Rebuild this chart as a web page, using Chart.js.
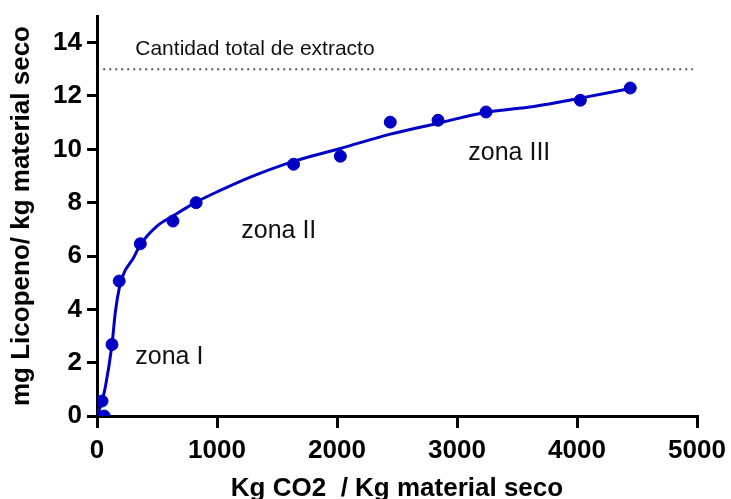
<!DOCTYPE html>
<html>
<head>
<meta charset="utf-8">
<script src="https://cdn.jsdelivr.net/npm/chart.js@4.4.0/dist/chart.umd.min.js"></script>
<style>
  html, body { margin: 0; padding: 0; background: #fff; }
  #wrap { width: 731px; height: 499px; }
</style>
</head>
<body>
<div id="wrap"><canvas id="myChart" width="731" height="499"></canvas></div>
<script>
// measured extraction points
const co2 = [0, 42, 60, 125, 185, 361, 633, 826, 1638, 2028, 2444, 2842, 3242, 4028, 4444];
const licopeno = [0, 0.56, 0, 2.68, 5.06, 6.46, 7.31, 8.0, 9.44, 9.74, 11.02, 11.09, 11.40, 11.84, 12.30];

// fitted curve
const curveX = [0, 20, 42, 70, 125, 153, 188, 215, 236, 270, 300, 361, 500, 633, 826, 1027, 1278, 1638, 2028, 2444, 2842, 3242, 3640, 4028, 4444];
const curveY = [0, 0.25, 0.56, 1.1, 2.68, 3.9, 4.85, 5.25, 5.47, 5.7, 5.9, 6.42, 7.12, 7.5, 8.02, 8.46, 8.96, 9.55, 10.03, 10.57, 10.98, 11.39, 11.61, 11.92, 12.28];

// total extract level
const totalX = [52, 4967];
const totalY = [13, 13];

const xTicks = [0, 1000, 2000, 3000, 4000, 5000];
const yTicks = [0, 2, 4, 6, 8, 10, 12, 14];

const FONT = "'Liberation Sans', Arial, sans-serif";
const BLUE = '#0000c4';

const toXY = (xs, ys) => xs.map((x, i) => ({ x: x, y: ys[i] }));

// free text labels placed in data coordinates
const notes = [
  { text: 'Cantidad total de extracto', x: 319, y: 13.52, size: 21 },
  { text: 'zona I', x: 319, y: 1.96, size: 25 },
  { text: 'zona II', x: 1202, y: 6.69, size: 25 },
  { text: 'zona III', x: 3094, y: 9.59, size: 25 }
];

const notesPlugin = {
  id: 'notes',
  afterDatasetsDraw(chart) {
    const ctx = chart.ctx;
    const sx = chart.scales.x, sy = chart.scales.y;
    ctx.save();
    ctx.fillStyle = '#111';
    ctx.textAlign = 'left';
    ctx.textBaseline = 'alphabetic';
    notes.forEach(n => {
      ctx.font = n.size + 'px ' + FONT;
      ctx.fillText(n.text, sx.getPixelForValue(n.x), sy.getPixelForValue(n.y));
    });
    ctx.restore();
  }
};

const ctx = document.getElementById('myChart').getContext('2d');
new Chart(ctx, {
  type: 'scatter',
  data: {
    datasets: [
      {
        data: toXY(totalX, totalY),
        showLine: true,
        borderColor: '#555',
        borderWidth: 2,
        borderDash: [2, 4],
        pointRadius: 0
      },
      {
        data: toXY(curveX, curveY),
        showLine: true,
        borderColor: BLUE,
        borderWidth: 3,
        cubicInterpolationMode: 'monotone',
        pointRadius: 0
      },
      {
        data: toXY(co2, licopeno),
        showLine: false,
        backgroundColor: BLUE,
        borderColor: BLUE,
        pointRadius: 6
      }
    ]
  },
  options: {
    responsive: false,
    animation: false,
    layout: { padding: { top: 16, right: 34, left: 0, bottom: 0 } },
    plugins: {
      legend: { display: false },
      tooltip: { enabled: false }
    },
    scales: {
      x: {
        type: 'linear',
        min: 0,
        max: 5000,
        // fixed axis height; labels may overhang the edges
        afterFit: s => { s.height = 83; s.paddingLeft = 0; s.paddingRight = 0; },
        afterBuildTicks: s => { s.ticks = xTicks.map(v => ({ value: v })); },
        border: { color: '#000', width: 3 },
        grid: { drawOnChartArea: false, color: '#000', lineWidth: 3, tickLength: 12 },
        ticks: {
          color: '#000',
          padding: 7,
          callback: v => String(v),
          font: { family: FONT, size: 26, weight: 'bold' }
        },
        title: {
          display: true,
          text: 'Kg CO2  / Kg material seco',
          color: '#000',
          padding: 0,
          font: { family: FONT, size: 26, weight: 'bold', lineHeight: 0.75 }
        }
      },
      y: {
        type: 'linear',
        min: 0,
        max: 15,
        afterFit: s => { s.width = 97; s.paddingTop = 0; s.paddingBottom = 0; },
        afterBuildTicks: s => { s.ticks = yTicks.map(v => ({ value: v })); },
        border: { color: '#000', width: 3 },
        grid: { drawOnChartArea: false, color: '#000', lineWidth: 3, tickLength: 10 },
        ticks: { color: '#000', padding: 5, font: { family: FONT, size: 26, weight: 'bold' } },
        title: {
          display: true,
          text: 'mg Licopeno/ kg material seco',
          color: '#000',
          padding: { top: 8, bottom: 0 },
          font: { family: FONT, size: 26, weight: 'bold', lineHeight: 1.1 }
        }
      }
    }
  },
  plugins: [notesPlugin]
});
</script>
</body>
</html>
